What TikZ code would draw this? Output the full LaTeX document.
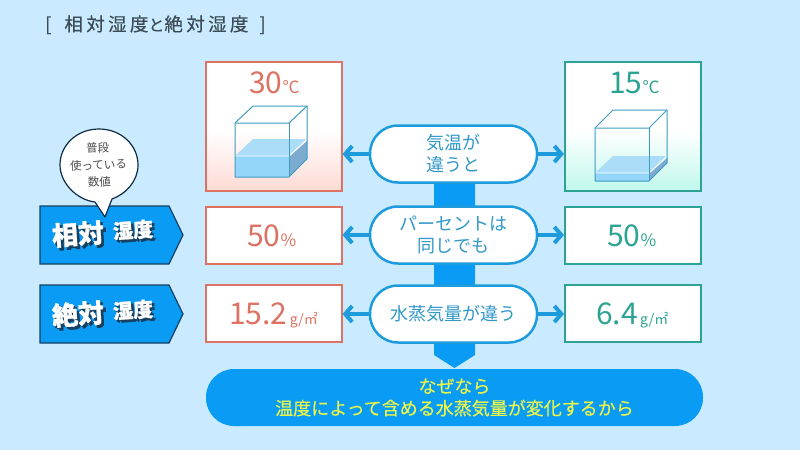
\documentclass[tikz,border=0pt]{standalone}
\usepackage{fontspec}
\setmainfont{Noto Sans CJK JP}
\usetikzlibrary{arrows.meta}
\definecolor{bgc}{HTML}{C9EAFF}
\definecolor{redc}{HTML}{DD7263}
\definecolor{grnc}{HTML}{2DA393}
\definecolor{bluc}{HTML}{1E9BDC}
\definecolor{blub}{HTML}{0A9BF5}
\definecolor{navy}{HTML}{16405F}
\definecolor{cubec}{HTML}{3D9CC0}
\definecolor{yel}{HTML}{E9F548}
\definecolor{txtb}{HTML}{3298C8}
\definecolor{wtop}{HTML}{ABDDF8}
\definecolor{wfront}{HTML}{93D6FA}
\definecolor{wside}{HTML}{7CABD0}
\definecolor{titlec}{HTML}{3C4B55}
\definecolor{redbot}{HTML}{FFDAD4}
\definecolor{grnbot}{HTML}{C0F8EC}
\newcommand{\bigt}{\fontsize{30}{30}\selectfont}
\newcommand{\smlt}{\fontsize{17}{17}\selectfont}
\newcommand{\unit}{\fontsize{14}{14}\selectfont\,g/㎡}
\tikzset{
 x=1pt,y=-1pt,
 valbox/.style={line width=2pt,fill=white,inner sep=0,minimum width=136},
 redbox/.style={valbox,draw=redc},
 grnbox/.style={valbox,draw=grnc},
 pill/.style={draw=bluc,line width=2.5pt,fill=white,rounded corners=28,inner sep=0,minimum width=167,minimum height=57,text=txtb,font=\fontsize{18}{22}\selectfont,align=center},
 conn/.style={bluc,line width=4pt,-{Straight Barb[length=7pt,width=16pt,line width=4pt]}},
 tagshape/.style={draw=navy,line width=1.2pt,fill=blub},
 cubeedge/.style={draw=cubec,line width=1pt,line join=round},
 redtxt/.style={text=redc,font=\bigt,inner sep=0,anchor=base west},
 grntxt/.style={text=grnc,font=\bigt,inner sep=0,anchor=base west},
}
% label with a heavy dark under-print and a white over-print
\newcommand{\shadowtxt}[5]{%
 \node[inner sep=0,rotate=4,text=navy,font=\fontsize{#4}{#4}\bfseries\selectfont\addfontfeature{FakeBold=3}] (#5s) at (#1+2.5,#2+2.5) {#3};
 \node[inner sep=0,rotate=4,text=white,font=\fontsize{#4}{#4}\bfseries\selectfont\addfontfeature{FakeBold=1}] (#5) at (#1,#2) {#3};}
\begin{document}
\begin{tikzpicture}
\useasboundingbox (0,0) rectangle (800,450);
\fill[bgc] (0,0) rectangle (800,450);
% title
\node[anchor=base west,inner sep=0,text=titlec,font=\fontsize{18.5}{18.5}\selectfont\addfontfeature{LetterSpace=18,FakeBold=0.4}] (title) at (45,31) {[\hspace{13pt}相対湿度{\fontsize{16}{16}\selectfont と}絶対湿度\hspace{11pt}]};
% central bar
\fill[blub] (434,180) -- (475,180) -- (475,355) -- (454.5,368) -- (434,355) -- cycle;
% top boxes with gradient
\fill[white] (205,62) rectangle (342,191);
\shade[top color=white,bottom color=redbot] (205,130) rectangle (342,191);
\node[redbox,fill=none,minimum height=129] (r1) at (273.5,126.5) {};
\fill[white] (565,62) rectangle (701,191);
\shade[top color=white,bottom color=grnbot] (565,130) rectangle (701,191);
\node[grnbox,fill=none,minimum height=129] (g1) at (633,126.5) {};
\node[redtxt] (t30) at (249,93) {30{\smlt ℃}};
\node[grntxt] (t15) at (609,93) {15{\smlt ℃}};
% red cube
\fill[wtop] (235,156) -- (253,139) -- (307,139) -- (289,156) -- cycle;
\fill[wfront] (235,156) rectangle (289,177);
\fill[wside] (289,157) -- (307,141) -- (307,159) -- (289,177) -- cycle;
\draw[white,line width=.7pt] (235,156) -- (289,156) -- (307,139);
\draw[cubeedge] (235,123) -- (253,106) -- (307,106) -- (307,159) -- (289,177) -- (235,177) -- cycle;
\draw[cubeedge] (235,123) -- (289,123) -- (307,106);
\draw[cubeedge] (289,123) -- (289,177);
% green cube
\fill[wtop] (595,173) -- (613,156) -- (667,156) -- (649,173) -- cycle;
\fill[wfront] (595,173) rectangle (649,181);
\fill[wside] (649,174) -- (667,158) -- (667,163) -- (649,181) -- cycle;
\draw[white,line width=.7pt] (595,173) -- (649,173) -- (667,156);
\draw[cubeedge] (595,128) -- (613,110) -- (667,110) -- (667,163) -- (649,181) -- (595,181) -- cycle;
\draw[cubeedge] (595,128) -- (649,128) -- (667,110);
\draw[cubeedge] (649,128) -- (649,181);
% row boxes
\node[redbox,minimum height=57] (r2) at (273.5,235) {};
\node[redbox,minimum height=57] (r3) at (273.5,313.5) {};
\node[grnbox,minimum height=57] (g2) at (633,235) {};
\node[grnbox,minimum height=57] (g3) at (633,313.5) {};
\node[redtxt] (p50l) at (247,246) {50{\smlt \%}};
\node[grntxt] (p50r) at (607,246) {50{\smlt \%}};
\node[redtxt] (a152) at (229,324) {15.2{\unit}};
\node[grntxt] (a64) at (596,324) {6.4{\unit}};
% pills
\node[pill] (p1) at (453.5,154) {気温が\\違うと};
\node[pill] (p2) at (453.5,235) {パーセントは\\同じでも};
\node[pill] (p3) at (453.5,314) {水蒸気量が違う};
% connectors
\draw[conn] (p1.west) -- (p1.west -| r1.east);
\draw[conn] (p2.west) -- (p2.west -| r2.east);
\draw[conn] (p3.west) -- (p3.west -| r3.east);
\draw[conn] (p1.east) -- (p1.east -| g1.west);
\draw[conn] (p2.east) -- (p2.east -| g2.west);
\draw[conn] (p3.east) -- (p3.east -| g3.west);
% banner
\node[fill=blub,rounded corners=28,minimum width=497,minimum height=57,inner sep=0,text=yel,align=center,font=\fontsize{18}{22}\selectfont\addfontfeature{FakeBold=0.4}] (why) at (454.5,397.5) {なぜなら\\温度によって含める水蒸気量が変化するから};
% tags
\draw[tagshape] (40,206) -- (169,206) -- (183,235) -- (169,264) -- (40,264) -- cycle;
\draw[tagshape] (40,285) -- (169,285) -- (183,314) -- (169,343) -- (40,343) -- cycle;
% bubble
\draw[navy!70!black,line width=1.2pt,fill=white,line join=round] (95,202) .. controls (77,200) and (60,183) .. (60,165) .. controls (60,145) and (77,129) .. (99,129) .. controls (121,129) and (138,145) .. (138,165) .. controls (138,181) and (126,194) .. (112,199) -- (105,217) -- cycle;
\node[text=black!70,align=center,inner sep=0,rotate=3,font=\fontsize{11.5}{17}\selectfont] (bub) at (98.5,165) {普段\\使っている\\数値};
% tag text
\shadowtxt{78}{234}{相対}{26}{ta}
\shadowtxt{133}{230}{湿度}{20}{tb}
\shadowtxt{78}{314}{絶対}{26}{tc}
\shadowtxt{133}{310}{湿度}{20}{td}
\end{tikzpicture}
\end{document}
